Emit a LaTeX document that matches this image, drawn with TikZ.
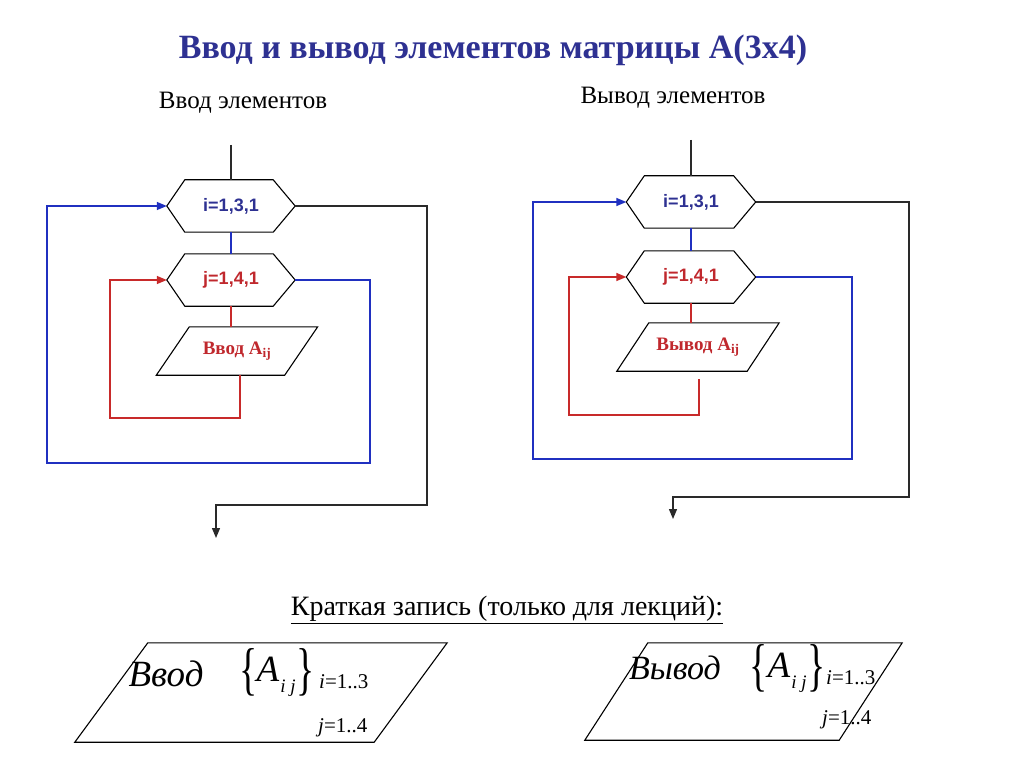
\documentclass[tikz,border=0pt]{standalone}
\usepackage{fontspec}
\setmainfont{Liberation Serif}
\newfontfamily\sansf{Liberation Sans}
\usetikzlibrary{arrows.meta}
\definecolor{navy}{HTML}{2E3192}
\definecolor{dred}{HTML}{C0282D}
\definecolor{lblue}{HTML}{2030C0}
\definecolor{lred}{HTML}{C82A2A}
\definecolor{lgray}{HTML}{2A2A2A}
\newcommand\hexpath[2]{\draw[#2] (#1.west) -- ([xshift=18pt]#1.north west) -- ([xshift=-22pt]#1.north east) -- (#1.east) -- ([xshift=-22pt]#1.south east) -- ([xshift=18pt]#1.south west) -- cycle;}
\newcommand\parapath[2]{\draw[shapeline] ([xshift=#2]#1.north west) -- (#1.north east) -- ([xshift=-#2]#1.south east) -- (#1.south west) -- cycle;}
\newcommand\bigbrace[1]{\scalebox{1.05}[1.6]{\fontsize{36}{36}\selectfont #1}}
\tikzset{
  shapeline/.style={draw=black, line width=1.1pt},
  hexbox/.style={minimum width=128pt, minimum height=52pt, inner sep=0pt, font=\sansf\bfseries\fontsize{18}{21}\selectfont},
  parabox/.style={inner sep=0pt, font=\bfseries\fontsize{19}{22}\selectfont, text=dred},
  tip/.style={-{Triangle[length=10pt,width=8pt]}},
  bl/.style={draw=lblue, line width=1.4pt},
  rd/.style={draw=lred, line width=1.4pt},
  blk/.style={draw=lgray, line width=1.3pt},
  titlef/.style={font=\bfseries\fontsize{34}{40}\selectfont, text=navy},
  subf/.style={font=\fontsize{25}{30}\selectfont},
  hdrf/.style={font=\fontsize{28}{33}\selectfont},
  aflt/.style={font=\itshape\fontsize{37}{40}\selectfont, inner sep=0pt},
  subsc/.style={font=\itshape\fontsize{19}{22}\selectfont, inner sep=0pt},
  rng/.style={font=\fontsize{21}{24}\selectfont, inner sep=0pt, anchor=west},
  brc/.style={inner sep=0pt}
}
\begin{document}
\begin{tikzpicture}[x=1pt,y=-1pt]
\useasboundingbox[fill=white] (0,0) rectangle (1024,767);

\node[titlef] (title) at (493,50) {Ввод и вывод элементов матрицы А(3х4)};
\node[subf] (subL) at (243,103) {Ввод элементов};
\node[subf] (subR) at (673,98) {Вывод элементов};

% ---------- left flowchart ----------
\coordinate (Lt) at (231,145);
\node[hexbox, text=navy] (Li) at (231,206) {i=1,3,1};
\node[hexbox, text=dred] (Lj) at (231,280) {j=1,4,1};
\node[parabox, minimum width=161pt, minimum height=48pt] (Lp) at (237,351) {Ввод A\textsubscript{ij}};
\hexpath{Li}{shapeline}
\hexpath{Lj}{shapeline}
\parapath{Lp}{33pt}
\draw[blk] (Lt) -- (Li.north);
\draw[bl] (Li.south) -- (Lj.north);
\draw[rd] (Lj.south) -- (Lj.south |- Lp.north);
\coordinate (Lr1) at (110,418);
\draw[rd,tip] ([xshift=3pt]Lp.south) |- (Lr1) |- (Lj.west);
\coordinate (Lb1) at (370,463);
\coordinate (Lb2) at (47,463);
\draw[bl,tip] (Lj.east) -| (Lb1) -- (Lb2) |- (Li.west);
\coordinate (Le1) at (427,505);
\coordinate (Le2) at (216,538);
\draw[blk,tip] (Li.east) -| (Le1) -| (Le2);

% ---------- right flowchart ----------
\coordinate (Rt) at (691,140);
\node[hexbox, minimum width=129pt, text=navy] (Ri) at (691,202) {i=1,3,1};
\node[hexbox, minimum width=129pt, text=dred] (Rj) at (691,277) {j=1,4,1};
\node[parabox, minimum width=162pt, minimum height=48pt] (Rp) at (698,347) {Вывод A\textsubscript{ij}};
\hexpath{Ri}{shapeline}
\hexpath{Rj}{shapeline}
\parapath{Rp}{32pt}
\draw[blk] (Rt) -- (Ri.north);
\draw[bl] (Ri.south) -- (Rj.north);
\draw[rd] (Rj.south) -- (Rj.south |- Rp.north);
\coordinate (Rr1) at (569,415);
\draw[rd,tip] ([xshift=1pt,yshift=-8pt]Rp.south) |- (Rr1) |- (Rj.west);
\coordinate (Rb1) at (852,459);
\coordinate (Rb2) at (533,459);
\draw[bl,tip] (Rj.east) -| (Rb1) -- (Rb2) |- (Ri.west);
\coordinate (Re1) at (909,497);
\coordinate (Re2) at (673,519);
\draw[blk,tip] (Ri.east) -| (Re1) -| (Re2);

% ---------- short notation ----------
\node[hdrf] (hdr) at (507,610) {\underline{Краткая запись (только для лекций):}};

\node[minimum width=372pt, minimum height=99pt, inner sep=0pt] (BL) at (261,692.5) {};
\parapath{BL}{73pt}
\node[font=\itshape\fontsize{37}{40}\selectfont, inner sep=0pt] (BLw) at (166,674) {Ввод};
\node[brc] (BLb1) at (249,672) {\bigbrace{\{}};
\node[aflt] (BLa) at (268,669) {A};
\node[subsc] (BLs) at (288,688) {i j};
\node[brc] (BLb2) at (306,672) {\bigbrace{\}}};
\node[rng] (BLi) at (319,682) {\textit{i}=1..3};
\node[rng] (BLj) at (318,728) {\textit{j}=1..4};

\node[minimum width=317pt, minimum height=97pt, inner sep=0pt] (BR) at (743.5,691.5) {};
\parapath{BR}{63pt}
\node[font=\itshape\fontsize{34}{38}\selectfont, inner sep=0pt] (BRw) at (675,668) {Вывод};
\node[brc] (BRb1) at (759,668) {\bigbrace{\{}};
\node[aflt] (BRa) at (779,665) {A};
\node[subsc] (BRs) at (799,684) {i j};
\node[brc] (BRb2) at (817,668) {\bigbrace{\}}};
\node[rng] (BRi) at (826,678) {\textit{i}=1..3};
\node[rng] (BRj) at (822,720) {\textit{j}=1..4};
\end{tikzpicture}
\end{document}
